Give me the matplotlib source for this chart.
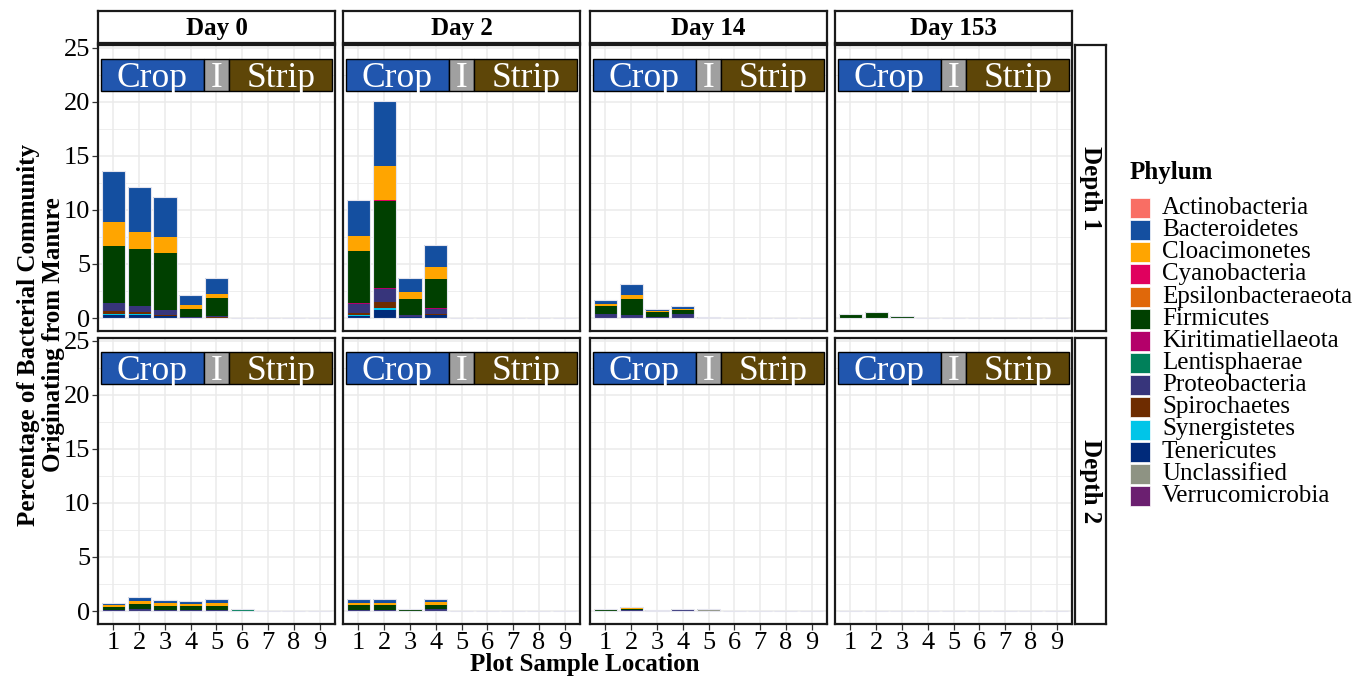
import matplotlib
matplotlib.use("Agg")
import matplotlib.pyplot as plt
from matplotlib.patches import Rectangle
import numpy as np

plt.rcParams['font.family'] = ['Liberation Serif', 'DejaVu Serif']

# ---- data -------------------------------------------------------------
locations = [1, 2, 3, 4, 5, 6, 7, 8, 9]
days = ["Day 0", "Day 2", "Day 14", "Day 153"]
depths = ["Depth 1", "Depth 2"]
yticks = [0, 5, 10, 15, 20, 25]

phyla = ["Actinobacteria", "Bacteroidetes", "Cloacimonetes", "Cyanobacteria",
         "Epsilonbacteraeota", "Firmicutes", "Kiritimatiellaeota", "Lentisphaerae",
         "Proteobacteria", "Spirochaetes", "Synergistetes", "Tenericutes",
         "Unclassified", "Verrucomicrobia"]
phylum_colors = ["#F96E64", "#144FA0", "#FFA500", "#E0005E",
                 "#E0680A", "#004000", "#B4006A", "#00805A",
                 "#37357B", "#6E2C00", "#00C5E8", "#002A7A",
                 "#8E9383", "#6B1F70"]

day0_depth1 = {
    "Actinobacteria": [0.03, 0.03, 0.02, 0, 0, 0, 0, 0, 0],
    "Bacteroidetes":  [4.70, 4.20, 3.66, 0.84, 1.49, 0, 0, 0, 0],
    "Cloacimonetes":  [2.20, 1.55, 1.46, 0.37, 0.37, 0, 0, 0, 0],
    "Firmicutes":     [5.25, 5.28, 5.33, 0.80, 1.62, 0, 0, 0, 0],
    "Proteobacteria": [0.80, 0.56, 0.47, 0.08, 0.15, 0, 0.03, 0, 0],
    "Spirochaetes":   [0.25, 0.18, 0.05, 0, 0.02, 0, 0, 0, 0],
    "Synergistetes":  [0.10, 0.05, 0.05, 0, 0.02, 0, 0, 0, 0],
    "Tenericutes":    [0.28, 0.30, 0.15, 0, 0.02, 0, 0, 0, 0],
}
day2_depth1 = {
    "Actinobacteria":     [0.03, 0.05, 0, 0.04, 0, 0, 0, 0.03, 0],
    "Bacteroidetes":      [3.30, 5.90, 1.22, 2.02, 0, 0, 0, 0, 0],
    "Cloacimonetes":      [1.35, 3.18, 0.73, 1.13, 0, 0, 0, 0, 0],
    "Cyanobacteria":      [0, 0.06, 0, 0, 0, 0, 0, 0, 0],
    "Firmicutes":         [4.83, 8.10, 1.41, 2.69, 0, 0, 0, 0, 0],
    "Kiritimatiellaeota": [0.06, 0.06, 0, 0.03, 0, 0, 0, 0, 0],
    "Proteobacteria":     [0.86, 1.26, 0.20, 0.46, 0, 0, 0, 0, 0],
    "Spirochaetes":       [0.12, 0.49, 0.03, 0.10, 0, 0, 0, 0, 0],
    "Synergistetes":      [0.10, 0.18, 0.02, 0.05, 0, 0, 0, 0, 0],
    "Tenericutes":        [0.22, 0.77, 0.06, 0.25, 0, 0, 0, 0, 0],
}
day14_depth1 = {
    "Bacteroidetes":  [0.31, 1.01, 0.22, 0.25, 0.03, 0, 0, 0, 0],
    "Cloacimonetes":  [0.19, 0.41, 0.05, 0.05, 0, 0, 0, 0, 0],
    "Firmicutes":     [0.74, 1.45, 0.50, 0.41, 0.08, 0, 0, 0, 0],
    "Proteobacteria": [0.40, 0.31, 0.10, 0.37, 0, 0, 0, 0, 0],
    "Unclassified":   [0, 0, 0, 0, 0, 0, 0, 0.02, 0],
}
day153_depth1 = {
    "Firmicutes":   [0.40, 0.52, 0.18, 0, 0, 0, 0, 0, 0],
    "Unclassified": [0, 0, 0, 0, 0.03, 0, 0.03, 0, 0],
}
day0_depth2 = {
    "Bacteroidetes":  [0.17, 0.43, 0.30, 0.27, 0.33, 0.03, 0, 0, 0],
    "Cloacimonetes":  [0.17, 0.25, 0.21, 0.22, 0.27, 0, 0, 0, 0],
    "Firmicutes":     [0.25, 0.49, 0.36, 0.30, 0.38, 0.10, 0, 0, 0],
    "Lentisphaerae":  [0, 0, 0, 0, 0, 0.06, 0, 0, 0],
    "Proteobacteria": [0.12, 0.16, 0.14, 0.13, 0.12, 0, 0, 0, 0],
    "Unclassified":   [0, 0, 0, 0, 0, 0, 0, 0, 0.02],
}
day2_depth2 = {
    "Bacteroidetes":  [0.31, 0.32, 0.03, 0.30, 0, 0, 0, 0, 0],
    "Cloacimonetes":  [0.25, 0.26, 0.12, 0.25, 0.04, 0, 0, 0, 0],
    "Firmicutes":     [0.38, 0.38, 0.05, 0.40, 0, 0, 0, 0, 0],
    "Proteobacteria": [0.14, 0.14, 0.03, 0.15, 0, 0, 0, 0, 0],
    "Unclassified":   [0, 0, 0, 0, 0, 0.02, 0, 0, 0],
}
day14_depth2 = {
    "Bacteroidetes":  [0, 0.12, 0, 0.03, 0, 0, 0, 0, 0],
    "Cloacimonetes":  [0.08, 0.03, 0.05, 0, 0.03, 0, 0, 0, 0],
    "Firmicutes":     [0.05, 0.15, 0, 0.10, 0.05, 0, 0, 0, 0],
    "Proteobacteria": [0.03, 0.07, 0.02, 0.02, 0.03, 0, 0, 0, 0],
    "Unclassified":   [0, 0, 0.05, 0.03, 0.07, 0.01, 0.01, 0.01, 0.01],
}
day153_depth2 = {
    "Unclassified": [0.02, 0, 0.02, 0, 0, 0, 0, 0, 0],
}

panels = [[day0_depth1, day2_depth1, day14_depth1, day153_depth1],
          [day0_depth2, day2_depth2, day14_depth2, day153_depth2]]

zone_labels = ["Crop", "I", "Strip"]
zone_spans = [(0.5, 4.5), (4.5, 5.5), (5.5, 9.5)]
zone_colors = ["#2156AE", "#A0A0A0", "#5E4608"]

# ---- layout -----------------------------------------------------------
W, H = 1370, 677
fig = plt.figure(figsize=(W / 100, H / 100), dpi=100)

col_left = [98, 343, 590, 835]
panel_w = 237
row_top = [45, 338]
panel_h = 286


def fx(px):
    return px / W


def fy(py):
    return 1 - py / H


grid_col = "#EBEBEB"
x = np.array(locations, dtype=float)

for r in range(2):
    for c in range(4):
        ax = fig.add_axes([fx(col_left[c]), fy(row_top[r] + panel_h),
                           fx(panel_w), panel_h / H])
        ax.set_xlim(0.4, 9.6)
        ax.set_ylim(-1.2, 25.25)
        ax.set_facecolor("white")
        ax.set_yticks(yticks)
        ax.set_yticks([2.5, 7.5, 12.5, 17.5, 22.5], minor=True)
        ax.set_xticks(locations)
        ax.grid(True, which="major", color=grid_col, lw=1.1, zorder=0)
        ax.grid(True, which="minor", axis="y", color=grid_col, lw=0.6, zorder=0)
        ax.set_axisbelow(True)
        ax.tick_params(which="minor", length=0)
        ax.tick_params(which="major", length=4, color="#333333", width=0.9,
                       labelsize=19, pad=1.5)
        if c > 0:
            ax.tick_params(axis="y", left=False, labelleft=False)
        if r == 0:
            ax.tick_params(axis="x", bottom=False, labelbottom=False)
        for s in ax.spines.values():
            s.set_color("#1a1a1a")
            s.set_linewidth(1.6)

        # stacked bars: first phylum ends on top
        data = panels[r][c]
        bottom = np.zeros(len(locations))
        for name, col in zip(reversed(phyla), reversed(phylum_colors)):
            if name not in data:
                continue
            vals = np.array(data[name], dtype=float)
            ax.bar(x, vals, width=0.9, bottom=bottom, color=col,
                   edgecolor="none", zorder=2)
            bottom += vals
        ax.bar(x, bottom, width=0.9, fill=False, edgecolor="#E4E4EE",
               linewidth=0.8, zorder=3)

        # field zone annotation
        for lab, (x0, x1), zc in zip(zone_labels, zone_spans, zone_colors):
            ax.add_patch(Rectangle((x0, 21), x1 - x0, 3, facecolor=zc,
                                   edgecolor="black", lw=1.0, zorder=4))
            ax.text((x0 + x1) / 2, 21.35, lab, color="white", fontsize=25.5,
                    ha="center", va="baseline", zorder=5)

        # facet strips
        if r == 0:
            sx = fig.add_axes([fx(col_left[c]), fy(43), fx(panel_w), 32 / H])
            sx.set_xticks([]); sx.set_yticks([])
            for s in sx.spines.values():
                s.set_linewidth(1.6); s.set_color("#1a1a1a")
            sx.text(0.5, 0.45, days[c], ha="center", va="center",
                    fontsize=18, fontweight="bold", transform=sx.transAxes)
        if c == 3:
            sy = fig.add_axes([fx(1075), fy(row_top[r] + panel_h), fx(31),
                               panel_h / H])
            sy.set_xticks([]); sy.set_yticks([])
            for s in sy.spines.values():
                s.set_linewidth(1.6); s.set_color("#1a1a1a")
            sy.text(0.5, 0.5, depths[r], ha="center", va="center", rotation=-90,
                    fontsize=18, fontweight="bold", transform=sy.transAxes)

# axis titles
fig.text(fx(41), fy(335), "Percentage of Bacterial Community\nOriginating from Manure",
         rotation=90, ha="center", va="center", fontsize=18, fontweight="bold",
         linespacing=1.08)
fig.text(fx(585), fy(664), "Plot Sample Location", ha="center", va="center",
         fontsize=18, fontweight="bold")

# legend
fig.text(fx(1130), fy(173), "Phylum", ha="left", va="center", fontsize=18,
         fontweight="bold")
step = 22.15
for i, (name, col) in enumerate(zip(phyla, phylum_colors)):
    cy = 208 + step * i
    fig.patches.append(Rectangle((fx(1130), fy(cy + 10)), fx(20), 20 / H,
                                 facecolor=col, edgecolor="white", lw=0.5,
                                 transform=fig.transFigure, figure=fig))
    fig.text(fx(1162), fy(cy), name, ha="left", va="center", fontsize=18)

fig.savefig("out.png", dpi=100)
